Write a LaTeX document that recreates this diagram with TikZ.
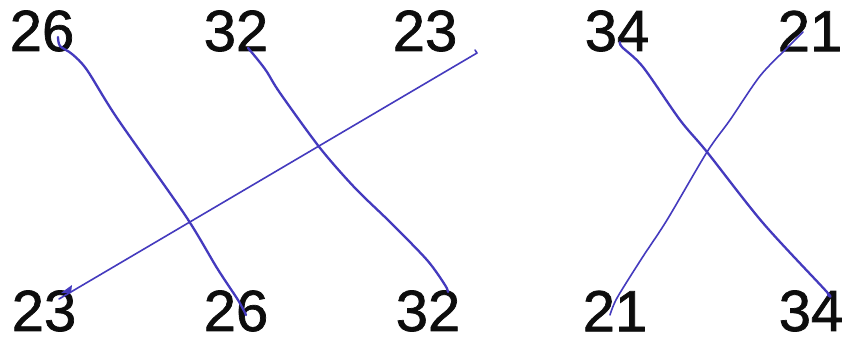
\documentclass[tikz,border=0pt]{standalone}
\usepackage{fontspec}
\setmainfont{Liberation Sans}
\newfontfamily\numfont[FakeBold=1.2]{Liberation Sans}
\definecolor{ink}{RGB}{68,58,190}
\tikzset{
  num/.style={inner sep=0pt, outer sep=0pt, anchor=center, text=black!95, font=\numfont\fontsize{58}{60}\selectfont},
  pen/.style={draw=ink, line width=2.3pt, line cap=round, line join=round},
  thinpen/.style={draw=ink, line width=1.6pt, line cap=round, line join=round}
}
\begin{document}
\begin{tikzpicture}[x=1pt,y=-1pt]
\useasboundingbox[fill=white] (0,0) rectangle (842,339);
% top row
\node[num] (t26) at (42,31) {26};
\node[num] (t32) at (236,31) {32};
\node[num] (t23) at (425,31) {23};
\node[num] (t34) at (617,31) {34};
\node[num] (t21) at (810,31) {21};
% bottom row
\node[num] (b23) at (44,311) {23};
\node[num] (b26) at (236,311) {26};
\node[num] (b32) at (428,311) {32};
\node[num] (b21) at (615,311) {21};
\node[num] (b34) at (811,311) {34};
% line end points
\coordinate (s1) at (58,37);   \coordinate (e1) at (246,315);
\coordinate (s2) at (248,48);  \coordinate (e2) at (448,292);
\coordinate (s3) at (477,53);  \coordinate (e3) at (59,299);
\coordinate (s4) at (620,42);  \coordinate (e4) at (828,295);
\coordinate (s5) at (803,32);  \coordinate (e5) at (610,315);
% 26 -> 26
\draw[pen] plot[smooth, tension=0.5] coordinates {(s1) (60,46) (72,54) (87,70) (117,118) (185,215) (217,268) (238,300) (e1)};
% 32 -> 32
\draw[pen] plot[smooth, tension=0.5] coordinates {(s2) (258,60) (267,72) (280,93) (320,148) (355,188) (390,222) (427,260) (445,285) (e2)};
% 23 -> 23
\draw[thinpen] (475,50) -- (s3) -- (e3);
\fill[ink] (61,293) -- (72,285) -- (71,293) -- cycle;
% 34 -> 34
\draw[pen] plot[smooth, tension=0.5] coordinates {(s4) (622,47) (643,67) (680,120) (707,152) (763,223) (826,291) (e4)};
% 21 -> 21
\draw[thinpen] plot[smooth, tension=0.5] coordinates {(s5) (787,48) (760,76) (730,120) (707,152) (667,220) (642,258) (617,298) (e5)};
\end{tikzpicture}
\end{document}
